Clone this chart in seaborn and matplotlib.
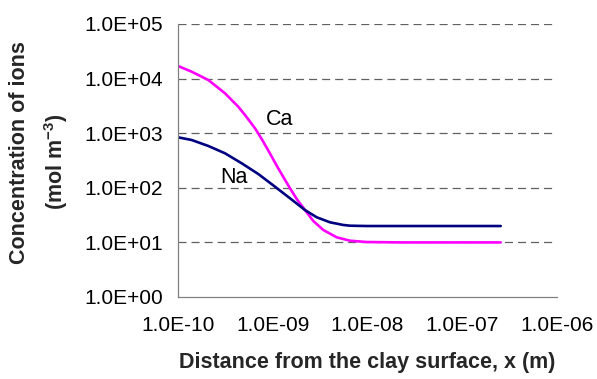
import numpy as np
import pandas as pd
import matplotlib
matplotlib.use("Agg")
import matplotlib.pyplot as plt
import seaborn as sns

# Data: log10 of distance x (m) and log10 of concentration (mol m^-3)
ca_logx = [-10.0, -9.855, -9.680, -9.504, -9.364, -9.293, -9.187, -9.117, -9.047, -8.941,
           -8.818, -8.747, -8.660, -8.572, -8.466, -8.325, -8.185, -8.008, -7.657, -6.594]
ca_logc = [4.231, 4.126, 3.974, 3.731, 3.485, 3.333, 3.090, 2.894, 2.683, 2.353,
           1.991, 1.795, 1.593, 1.392, 1.227, 1.093, 1.031, 1.007, 1.000, 1.000]
na_logx = [-10.0, -9.855, -9.680, -9.504, -9.328, -9.153, -8.976, -8.818, -8.660, -8.536,
           -8.396, -8.255, -8.185, -8.008, -6.594]
na_logc = [2.925, 2.875, 2.766, 2.632, 2.449, 2.253, 2.020, 1.808, 1.593, 1.460,
           1.368, 1.319, 1.306, 1.300, 1.300]

x_ticks = [1e-10, 1e-9, 1e-8, 1e-7, 1e-6]
x_ticklabels = ["1.0E-10", "1.0E-09", "1.0E-08", "1.0E-07", "1.0E-06"]
y_ticks = [1e0, 1e1, 1e2, 1e3, 1e4, 1e5]
y_ticklabels = ["1.0E+00", "1.0E+01", "1.0E+02", "1.0E+03", "1.0E+04", "1.0E+05"]

df = pd.concat([
    pd.DataFrame({"x": 10.0 ** np.array(ca_logx), "c": 10.0 ** np.array(ca_logc), "ion": "Ca"}),
    pd.DataFrame({"x": 10.0 ** np.array(na_logx), "c": 10.0 ** np.array(na_logc), "ion": "Na"}),
])

sns.set_style("white")
plt.rcParams["font.family"] = ["Liberation Sans", "DejaVu Sans"]
plt.rcParams["mathtext.fontset"] = "custom"
plt.rcParams["mathtext.rm"] = "Liberation Sans"
plt.rcParams["mathtext.bf"] = "Liberation Sans:bold"
plt.rcParams["lines.scale_dashes"] = False

fig = plt.figure(figsize=(5.97, 3.79), dpi=100)
ax = fig.add_axes([178/597, 1 - 297/379, (557-178)/597, (297-24)/379])

sns.lineplot(data=df, x="x", y="c", hue="ion", palette={"Ca": "#FF00FF", "Na": "#000080"},
             linewidth=1.9, legend=False, ax=ax, estimator=None, sort=False)
for ln in ax.lines:
    ln.set_solid_joinstyle("round")

ax.set_xscale("log")
ax.set_yscale("log")
ax.set_xlim(1e-10, 1e-6)
ax.set_ylim(1e0, 1e5)

for yv in y_ticks[1:]:
    ax.axhline(yv, color="#606060", linestyle=(0, (5.8, 3.6)), linewidth=0.9, zorder=0)

ax.set_xticks(x_ticks)
ax.set_xticklabels(x_ticklabels)
ax.set_yticks(y_ticks)
ax.set_yticklabels(y_ticklabels)
ax.minorticks_off()
ax.tick_params(axis="both", which="major", direction="out", length=5, width=0.9,
               color="#808080", labelsize=15, labelcolor="black")
ax.tick_params(axis="y", pad=6)
ax.tick_params(axis="x", pad=9)

for s in ["top", "right"]:
    ax.spines[s].set_visible(False)
for s in ["left", "bottom"]:
    ax.spines[s].set_color("#808080")
    ax.spines[s].set_linewidth(0.9)

ax.set_xlabel("Distance from the clay surface, x (m)", fontsize=15.5, fontweight="bold", labelpad=12)
ax.set_ylabel("")

fig.text(20/597, 1 - 153/379, "Concentration of ions", rotation=90, fontsize=15.5,
         fontweight="bold", ha="center", va="center")
fig.text(56/597, 1 - 162/379, r"(mol m$^{\mathbf{-3}}$)", rotation=90, fontsize=15.5,
         fontweight="bold", ha="center", va="center")

ax.text(10 ** -9.074, 10 ** 3.150, "Ca", fontsize=15.5, color="black", ha="left", va="baseline")
ax.text(10 ** -9.557, 10 ** 2.093, "Na", fontsize=15.5, color="black", ha="left", va="baseline")

fig.savefig("out.png", dpi=100)
